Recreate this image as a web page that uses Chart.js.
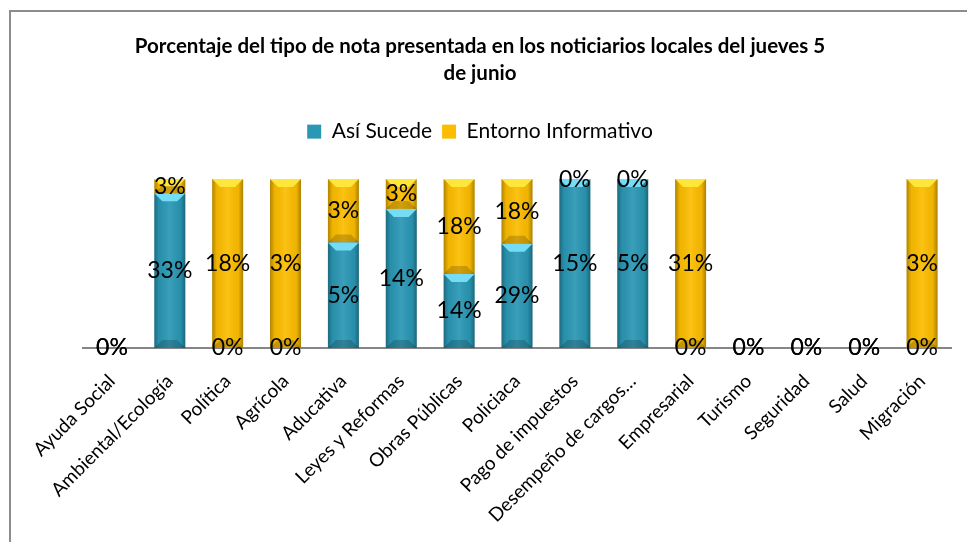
<!DOCTYPE html>
<html>
<head>
<meta charset="utf-8">
<script src="https://cdn.jsdelivr.net/npm/chart.js@4"></script>
<style>
  html, body { margin: 0; padding: 0; background: #fff; }
  #wrap { position: relative; width: 967px; height: 542px; overflow: hidden; }
  #frame { position: absolute; left: 9px; top: 10px; width: 1000px; height: 600px;
           border-left: 2px solid #8c8c8c; border-top: 2px solid #8c8c8c; }
  canvas { position: absolute; left: 0; top: 0; }
</style>
</head>
<body>
<div id="wrap">
  <div id="frame"></div>
  <canvas id="myChart" width="967" height="542"></canvas>
</div>
<script>
// categories and values (percent of each newscast)
var categories = ['Ayuda Social', 'Ambiental/Ecología', 'Política', 'Agrícola', 'Aducativa',
    'Leyes y Reformas', 'Obras Públicas', 'Policiaca', 'Pago de impuestos',
    'Desempeño de cargos…', 'Empresarial', 'Turismo', 'Seguridad', 'Salud', 'Migración'];
var asiSucede = [0, 33, 0, 0, 5, 14, 14, 29, 15, 5, 0, 0, 0, 0, 0];
var entornoInformativo = [0, 3, 18, 3, 3, 3, 18, 18, 0, 0, 31, 0, 0, 0, 3];
var seriesNames = ['Así Sucede', 'Entorno Informativo'];
var rawSeries = [asiSucede, entornoInformativo];

// 100% stacked: share of each series in its category
function share(values, other) {
    return values.map(function (v, i) {
        var total = v + other[i];
        return total === 0 ? 0 : v / total * 100;
    });
}

var baseColors = ['#2a97b4', '#fcbd00'];
var bevelColors = ['#74dcf4', '#ffe63a'];

// shading on each bar to get the glassy column look
var barShade = {
    id: 'barShade',
    afterDatasetsDraw: function (chart) {
        var ctx = chart.ctx;
        chart.data.datasets.forEach(function (ds, i) {
            chart.getDatasetMeta(i).data.forEach(function (bar) {
                var top = Math.min(bar.y, bar.base), bottom = Math.max(bar.y, bar.base);
                var h = bottom - top;
                if (h < 1) return;
                var left = bar.x - bar.width / 2, right = bar.x + bar.width / 2, w = bar.width;
                ctx.save();
                var g = ctx.createLinearGradient(left, 0, right, 0);
                g.addColorStop(0, 'rgba(0,0,0,0.3)');
                g.addColorStop(0.15, 'rgba(0,0,0,0.05)');
                g.addColorStop(0.5, 'rgba(255,255,255,0.08)');
                g.addColorStop(0.85, 'rgba(0,0,0,0.05)');
                g.addColorStop(1, 'rgba(0,0,0,0.32)');
                ctx.fillStyle = g;
                ctx.fillRect(left, top, w, h);
                var b = Math.min(8, h / 2);
                // top bevel
                ctx.fillStyle = bevelColors[i];
                ctx.beginPath();
                ctx.moveTo(left, top);
                ctx.lineTo(right, top);
                ctx.lineTo(right - b, top + b);
                ctx.lineTo(left + b, top + b);
                ctx.closePath();
                ctx.fill();
                // bottom bevel
                ctx.fillStyle = 'rgba(0,0,0,0.18)';
                ctx.beginPath();
                ctx.moveTo(left, bottom);
                ctx.lineTo(right, bottom);
                ctx.lineTo(right - b, bottom - b);
                ctx.lineTo(left + b, bottom - b);
                ctx.closePath();
                ctx.fill();
                ctx.restore();
            });
        });
    }
};

// value labels in the middle of every segment, zeros included
var valueLabels = {
    id: 'valueLabels',
    afterDatasetsDraw: function (chart) {
        var ctx = chart.ctx;
        ctx.save();
        ctx.font = '23px Lato';
        ctx.fillStyle = '#000';
        ctx.textAlign = 'center';
        ctx.textBaseline = 'middle';
        chart.data.datasets.forEach(function (ds, i) {
            chart.getDatasetMeta(i).data.forEach(function (bar, j) {
                ctx.fillText(rawSeries[i][j] + '%', bar.x, (bar.y + bar.base) / 2);
            });
        });
        ctx.restore();
    }
};

// extra room under the legend
var legendSpace = {
    id: 'legendSpace',
    beforeInit: function (chart) {
        var fit = chart.legend.fit;
        chart.legend.fit = function () {
            fit.bind(chart.legend)();
            this.height += 27;
        };
    }
};

var ctx = document.getElementById('myChart').getContext('2d');
var chart = new Chart(ctx, {
    type: 'bar',
    data: {
        labels: categories,
        datasets: [{
            label: seriesNames[0],
            data: share(asiSucede, entornoInformativo),
            backgroundColor: baseColors[0],
            borderWidth: 0
        }, {
            label: seriesNames[1],
            data: share(entornoInformativo, asiSucede),
            backgroundColor: baseColors[1],
            borderWidth: 0
        }]
    },
    options: {
        responsive: false,
        animation: false,
        events: [],
        layout: { padding: { left: 9, right: 16, top: 0, bottom: 0 } },
        datasets: { bar: { categoryPercentage: 0.535, barPercentage: 1 } },
        scales: {
            x: {
                stacked: true,
                grid: { display: false },
                border: { display: true, color: '#868686', width: 2 },
                ticks: {
                    color: '#000',
                    font: { family: 'Lato', size: 19 },
                    minRotation: 45,
                    maxRotation: 45,
                    autoSkip: false,
                    padding: 14
                },
                afterFit: function (scale) { scale.height = 194; }
            },
            y: {
                stacked: true,
                display: true,
                min: 0,
                max: 100,
                grid: { display: false },
                border: { display: false },
                ticks: { display: false },
                afterFit: function (scale) { scale.width = 74; }
            }
        },
        plugins: {
            title: {
                display: true,
                text: ['Porcentaje del tipo de nota presentada en los noticiarios locales del jueves 5', 'de junio'],
                color: '#000',
                font: { family: 'Lato', size: 20.5, weight: 'bold', lineHeight: 1.32 },
                padding: { top: 33, bottom: 24 }
            },
            legend: {
                display: true,
                position: 'top',
                labels: {
                    color: '#000',
                    font: { family: 'Lato', size: 21 },
                    boxWidth: 14,
                    boxHeight: 14,
                    padding: 10
                }
            },
            tooltip: { enabled: false }
        }
    },
    plugins: [barShade, valueLabels, legendSpace]
});
</script>
</body>
</html>
